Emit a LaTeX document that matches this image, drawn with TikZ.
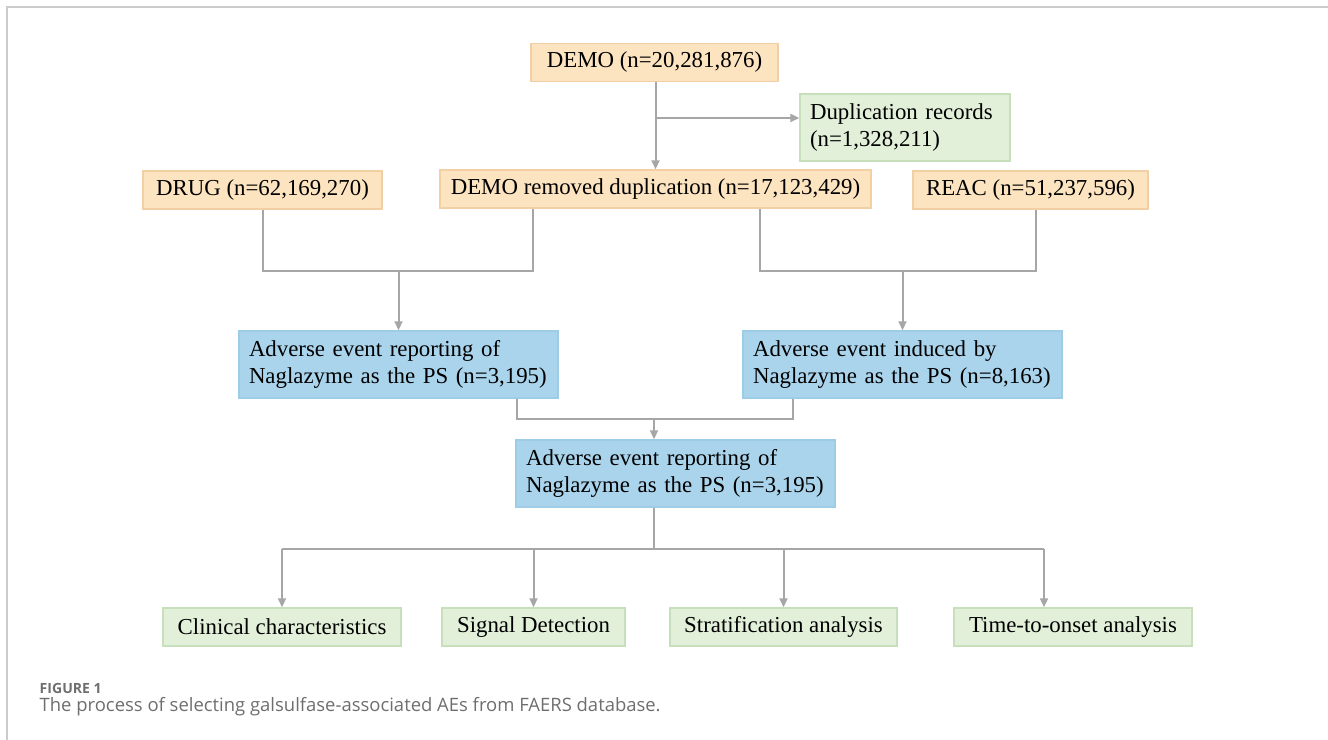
\documentclass[tikz,border=0pt]{standalone}
\usepackage{fontspec}
\setmainfont{Liberation Serif}
\newfontfamily\capfont{Open Sans}
\usepackage{xcolor}
\usetikzlibrary{arrows.meta,positioning,calc}

\definecolor{srcfill}{HTML}{FCE4C1}
\definecolor{srcline}{HTML}{F3CFA6}
\definecolor{exfill}{HTML}{E2F0D9}
\definecolor{exline}{HTML}{C8DFBB}
\definecolor{aefill}{HTML}{A9D4EC}
\definecolor{aeline}{HTML}{9CCCE6}
\definecolor{linkgray}{HTML}{A6A6A6}
\definecolor{capgray}{HTML}{6E6E6E}

\begin{document}
\begin{tikzpicture}[
      font=\fontsize{6.5}{7.7}\selectfont,
      src/.style={
          rectangle, draw=srcline, fill=srcfill,
          line width=0.4pt, minimum height=0.38cm,
          inner sep=0pt
      },
      excl/.style={
          rectangle, draw=exline, fill=exfill,
          line width=0.4pt, text width=1.90cm,
          inner xsep=0.1cm, inner ysep=0pt,
          minimum height=0.67cm, align=left
      },
      ae/.style={
          rectangle, draw=aeline, fill=aefill,
          line width=0.4pt, text width=2.99cm,
          inner xsep=0.1cm, inner ysep=0pt,
          minimum height=0.67cm, align=left
      },
      result/.style={
          rectangle, draw=exline, fill=exfill,
          line width=0.4pt, minimum height=0.38cm,
          inner sep=0pt
      },
      link/.style={line width=0.57pt, draw=linkgray},
      flow/.style={-{Triangle[length=0.9mm,width=0.8mm]}, line width=0.57pt, draw=linkgray, fill=linkgray},
      frame/.style={line width=0.5pt, draw=gray!40}
  ]
  \useasboundingbox (0,0) rectangle (13.28,7.40);

  % page frame
  \draw[frame] (0.07,0) -- (0.07,7.33) -- (13.28,7.33);

  % source tables
  \node[src, minimum width=2.47cm] (demo) at (6.545,6.775) {DEMO (n=20,281,876)};
  \node[excl] (dup) at (9.05,6.125) {Duplication records\\(n=1,328,211)};
  \node[src, minimum width=4.31cm] (demorm) at (6.555,5.51) {DEMO removed duplication (n=17,123,429)};
  \node[src, minimum width=2.39cm] (drug) at (2.625,5.50) {DRUG (n=62,169,270)};
  \node[src, minimum width=2.35cm] (reac) at (10.305,5.50) {REAC (n=51,237,596)};

  % adverse event sets
  \node[ae] (aeleft) at (3.985,3.755) {Adverse event reporting of\\Naglazyme as the PS (n=3,195)};
  \node[ae] (aeright) at (9.025,3.755) {Adverse event induced by\\Naglazyme as the PS (n=8,163)};
  \node[ae] (aemid) at (6.755,2.665) {Adverse event reporting of\\Naglazyme as the PS (n=3,195)};

  % analyses
  \node[result, minimum width=2.38cm] (clin) at (2.82,1.13) {Clinical characteristics};
  \node[result, minimum width=1.83cm] (sig) at (5.335,1.13) {Signal Detection};
  \node[result, minimum width=2.27cm] (strat) at (7.835,1.13) {Stratification analysis};
  \node[result, minimum width=2.38cm] (tto) at (10.73,1.13) {Time-to-onset analysis};

  % junction points
  \coordinate (bj) at (6.56,6.22);
  \coordinate (dl) at (5.33,4.69);
  \coordinate (dr) at (7.60,4.69);
  \coordinate (rr) at (10.36,4.69);
  \coordinate (lb) at (5.17,3.21);
  \coordinate (rb) at (7.93,3.21);
  \coordinate (mj) at (6.54,3.21);
  \coordinate (fj) at (6.54,1.91);
  \coordinate (tx) at (10.44,1.91);

  % removing duplicates
  \draw[flow] (demo.south -| demorm.north) -- (demorm.north);
  \draw[flow] (bj) -- (dup.west |- bj);

  % merging tables
  \draw[link] (drug.south) |- (dl) -- (demorm.south -| dl);
  \draw[flow] (aeleft.north |- dl) -- (aeleft.north);
  \draw[link] (demorm.south -| dr) -- (dr) -- (rr) -- (reac.south -| rr);
  \draw[flow] (aeright.north |- dr) -- (aeright.north);

  % combined set
  \draw[link] (aeleft.south -| lb) -- (lb) -- (rb) -- (aeright.south -| rb);
  \draw[flow] (mj) -- (aemid.north -| mj);

  % analyses
  \draw[link] (aemid.south -| fj) -- (fj);
  \draw[link] (clin.north |- fj) -- (tx);
  \foreach \name in {clin,sig,strat}{
      \draw[flow] (\name.north |- fj) -- (\name.north);
  }
  \draw[flow] (tx) -- (tto.north -| tx);

  % caption
  \node[anchor=west, inner sep=0pt, text=capgray, font=\capfont\bfseries\fontsize{4.0}{4.6}\selectfont]
      (figlabel) at (0.39,0.52) {FIGURE 1};
  \node[anchor=west, inner sep=0pt, text=capgray, font=\capfont\fontsize{5.25}{6}\selectfont]
      (figcap) at (0.39,0.33) {The process of selecting galsulfase-associated AEs from FAERS database.};
\end{tikzpicture}
\end{document}
